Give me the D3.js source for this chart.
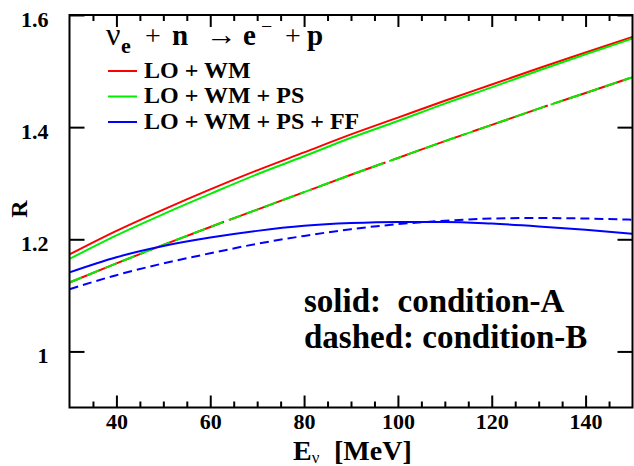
<!DOCTYPE html>
<html>
<head>
<meta charset="utf-8">
<script src="https://cdn.jsdelivr.net/npm/d3@7"></script>
<style>
  html, body { margin: 0; padding: 0; background: #fff; }
  svg { display: block; }
  text { font-family: "Liberation Serif", "DejaVu Serif", "Times New Roman", serif; fill: #000; }
</style>
</head>
<body>
<svg id="chart" width="634" height="466"></svg>
<script>
// ---- data ----
const energies    = [30, 40, 50, 60, 70, 80, 90, 100, 110, 120, 130, 140, 150];
const redSolid    = [1.173, 1.215, 1.253, 1.289, 1.323, 1.355, 1.387, 1.417, 1.447, 1.476, 1.505, 1.533, 1.561];
const greenSolid  = [1.165, 1.207, 1.245, 1.281, 1.316, 1.348, 1.381, 1.411, 1.442, 1.471, 1.501, 1.530, 1.558];
const redDashed   = [1.123, 1.157, 1.190, 1.222, 1.253, 1.284, 1.315, 1.345, 1.375, 1.404, 1.433, 1.461, 1.489];
const greenDashed = [1.123, 1.157, 1.190, 1.222, 1.253, 1.284, 1.315, 1.345, 1.375, 1.404, 1.433, 1.461, 1.489];
const blueSolid   = [1.141, 1.168, 1.188, 1.203, 1.215, 1.224, 1.229, 1.231, 1.231, 1.228, 1.223, 1.217, 1.210];
const blueDashed  = [1.111, 1.136, 1.157, 1.175, 1.192, 1.206, 1.218, 1.227, 1.233, 1.237, 1.238, 1.237, 1.235];

const xMajorTicks = [40, 60, 80, 100, 120, 140];
const xMinorTicks = [35, 45, 50, 55, 65, 70, 75, 85, 90, 95, 105, 110, 115, 125, 130, 135, 145];
const yMajorTicks = [1.0, 1.2, 1.4, 1.6];
const yTickLabels = ["1", "1.2", "1.4", "1.6"];
const legendLabels = ["LO + WM", "LO + WM + PS", "LO + WM + PS + FF"];
const legendColors = ["#ff0000", "#00ee00", "#0000ff"];

// ---- layout ----
const svg = d3.select("#chart");
const L = 69.5, R = 632.5, T = 15, B = 407.5;
const x = d3.scaleLinear().domain([30, 150]).range([L, R]);
const y = d3.scaleLinear().domain([0.9, 1.6]).range([B, T]);

const line = vals => d3.line()
  .x((d, i) => x(energies[i]))
  .y(d => y(d))
  .curve(d3.curveMonotoneX)(vals);

const plot = svg.append("g");
const series = [
  { v: redDashed,   c: "#ff0000", dash: "80,6" },
  { v: greenDashed, c: "#00ee00", dash: "13,6" },
  { v: blueDashed,  c: "#0000ff", dash: "9,5" },
  { v: redSolid,    c: "#ff0000", dash: null },
  { v: greenSolid,  c: "#00ee00", dash: null },
  { v: blueSolid,   c: "#0000ff", dash: null }
];
series.forEach(s => {
  plot.append("path")
    .attr("d", line(s.v))
    .attr("fill", "none")
    .attr("stroke", s.c)
    .attr("stroke-width", 2)
    .attr("stroke-dasharray", s.dash);
});

// ---- axes (ticks inward) ----
const fmtY = d => yTickLabels[yMajorTicks.indexOf(d)];
const axB = svg.append("g").attr("transform", `translate(0,${B})`)
  .call(d3.axisBottom(x).tickValues(xMajorTicks).tickSizeInner(-12).tickSizeOuter(0).tickPadding(6));
const axBm = svg.append("g").attr("transform", `translate(0,${B})`)
  .call(d3.axisBottom(x).tickValues(xMinorTicks).tickSizeInner(-6).tickSizeOuter(0).tickFormat(""));
const axT = svg.append("g").attr("transform", `translate(0,${T})`)
  .call(d3.axisTop(x).tickValues(xMajorTicks).tickSizeInner(-12).tickSizeOuter(0).tickFormat(""));
const axTm = svg.append("g").attr("transform", `translate(0,${T})`)
  .call(d3.axisTop(x).tickValues(xMinorTicks).tickSizeInner(-6).tickSizeOuter(0).tickFormat(""));
const axL = svg.append("g").attr("transform", `translate(${L},0)`)
  .call(d3.axisLeft(y).tickValues(yMajorTicks).tickSizeInner(-15).tickSizeOuter(0).tickPadding(21).tickFormat(fmtY));
const axR = svg.append("g").attr("transform", `translate(${R},0)`)
  .call(d3.axisRight(y).tickValues(yMajorTicks).tickSizeInner(-15).tickSizeOuter(0).tickFormat(""));

[axB, axBm, axT, axTm, axL, axR].forEach(a => {
  a.attr("font-family", null);
  a.select(".domain").remove();
  a.selectAll(".tick line").attr("stroke", "#000").attr("stroke-width", 2);
  a.selectAll(".tick text")
    .attr("font-weight", "bold").attr("font-size", 22).attr("fill", "#000");
});
axL.selectAll(".tick text").attr("dy", "0.5em");

svg.append("rect")
  .attr("x", L).attr("y", T).attr("width", R - L).attr("height", B - T)
  .attr("fill", "none").attr("stroke", "#000").attr("stroke-width", 2);

// ---- axis titles ----
const xl = svg.append("text").attr("x", 293).attr("y", 460)
  .attr("font-size", 28).attr("font-weight", "bold");
xl.append("tspan").text("E");
xl.append("tspan").attr("font-size", 17).attr("font-weight", "normal").attr("dy", 3).text("ν");
svg.append("text").attr("x", 334).attr("y", 460)
  .attr("font-size", 28).attr("font-weight", "bold").text("[MeV]");

svg.append("text").attr("transform", "translate(27,209) rotate(-90)")
  .attr("text-anchor", "middle").attr("font-size", 24).attr("font-weight", "bold").text("R");

// ---- reaction title ----
const title = [
  { t: "ν", x: 106, y: 45, s: 32, w: "normal" },
  { t: "e", x: 121, y: 53, s: 22, w: "bold" },
  { t: "+", x: 145, y: 45, s: 28, w: "normal" },
  { t: "n", x: 172, y: 45, s: 29, w: "bold" },
  { t: "→", x: 206, y: 45, s: 31, w: "normal" },
  { t: "e", x: 243, y: 45, s: 29, w: "bold" },
  { t: "−", x: 261, y: 33, s: 20, w: "normal" },
  { t: "+", x: 285, y: 45, s: 28, w: "normal" },
  { t: "p", x: 307, y: 45, s: 29, w: "bold" }
];
title.forEach(d => svg.append("text").attr("x", d.x).attr("y", d.y)
  .attr("font-size", d.s).attr("font-weight", d.w).text(d.t));

// ---- legend ----
const legY = [71, 96.5, 122];
legendLabels.forEach((lab, i) => {
  svg.append("line").attr("x1", 108).attr("x2", 137).attr("y1", legY[i]).attr("y2", legY[i])
    .attr("stroke", legendColors[i]).attr("stroke-width", 2);
  svg.append("text").attr("x", 144).attr("y", legY[i] + 6.5)
    .attr("font-size", 24).attr("font-weight", "bold").text(lab);
});

// ---- annotation ----
svg.append("text").attr("x", 304).attr("y", 312).attr("font-size", 33).attr("font-weight", "bold")
  .style("white-space", "pre").text("solid:  condition-A");
svg.append("text").attr("x", 304).attr("y", 348).attr("font-size", 33).attr("font-weight", "bold")
  .text("dashed: condition-B");
</script>
</body>
</html>
